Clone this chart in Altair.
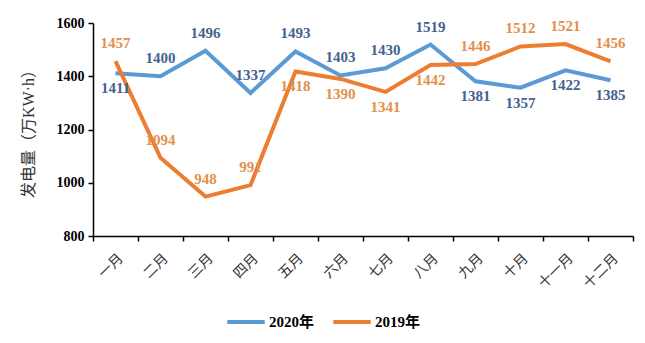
import altair as alt
import pandas as pd

months = ["一月", "二月", "三月", "四月", "五月", "六月", "七月", "八月", "九月", "十月", "十一月", "十二月"]
v2020 = [1411, 1400, 1496, 1337, 1493, 1403, 1430, 1519, 1381, 1357, 1422, 1385]
v2019 = [1457, 1094, 948, 991, 1418, 1390, 1341, 1442, 1446, 1512, 1521, 1456]
series = ["2020年", "2019年"]
line_colors = ["#5B9BD5", "#ED7D31"]
label_colors = ["#44628E", "#E39049"]

rows = []
for i, m in enumerate(months):
    a, b = v2020[i], v2019[i]
    for s, v, other in ((series[0], a, b), (series[1], b, a)):
        # label above when this series is the upper one, or when far below the other
        above = v >= other or (other - v) > 200
        rows.append({"month": m, "series": s, "value": v, "pos": "above" if above else "below"})
df = pd.DataFrame(rows)

serif = "Liberation Serif, Noto Sans CJK SC"

x = alt.X("month:N", sort=months, title=None,
          scale=alt.Scale(paddingInner=0, paddingOuter=0),
          axis=alt.Axis(labelAngle=-45, labelAlign="right", labelBaseline="top",
                        labelFont=serif, labelFontSize=14, labelColor="#333333",
                        tickBand="extent", tickSize=5, tickColor="#000000", tickWidth=1.5,
                        domainColor="#000000", domainWidth=1.5, labelPadding=10))
y = alt.Y("value:Q", title="发电量（万KW·h）",
          scale=alt.Scale(domain=[800, 1600], nice=False, zero=False),
          axis=alt.Axis(values=[800, 1000, 1200, 1400, 1600], format="d", grid=False,
                        labelFont=serif, labelFontSize=14, labelFontWeight="bold",
                        labelColor="#000000", tickSize=5, tickColor="#000000", tickWidth=1.5,
                        domainColor="#000000", domainWidth=1.5, labelPadding=4,
                        titleFont=serif, titleFontSize=16, titleFontWeight="normal",
                        titleColor="#333333", titlePadding=20))

color = alt.Color("series:N", sort=series,
                  scale=alt.Scale(domain=series, range=line_colors),
                  legend=alt.Legend(title=None, orient="none", direction="horizontal",
                                    legendX=132, legendY=278,
                                    symbolType="stroke", symbolSize=1400, symbolStrokeWidth=4,
                                    labelFont=serif, labelFontSize=15, labelFontWeight="bold",
                                    labelColor="#000000", columnPadding=10, labelOffset=2))

lines = alt.Chart(df).mark_line(strokeWidth=4).encode(x=x, y=y, color=color)

tcolor = alt.Color("series:N", scale=alt.Scale(domain=series, range=label_colors), legend=None)
above = alt.Chart(df).transform_filter("datum.pos == 'above'").mark_text(
    font=serif, fontSize=15, fontWeight="bold", dy=-18, baseline="middle").encode(
    x=x, y=y, text="value:Q", color=tcolor)
below = alt.Chart(df).transform_filter("datum.pos == 'below'").mark_text(
    font=serif, fontSize=15, fontWeight="bold", dy=15, baseline="middle").encode(
    x=x, y=y, text="value:Q", color=tcolor)

chart = alt.layer(lines, above, below).resolve_scale(color="independent").properties(
    width=540, height=213,
    autosize=alt.AutoSizeParams(type="none"),
    padding={"left": 93, "top": 23, "right": 12, "bottom": 107},
    background="#FFFFFF",
).configure_view(stroke=None)

chart.save("out.html", embed_options={"renderer": "svg", "actions": False})
